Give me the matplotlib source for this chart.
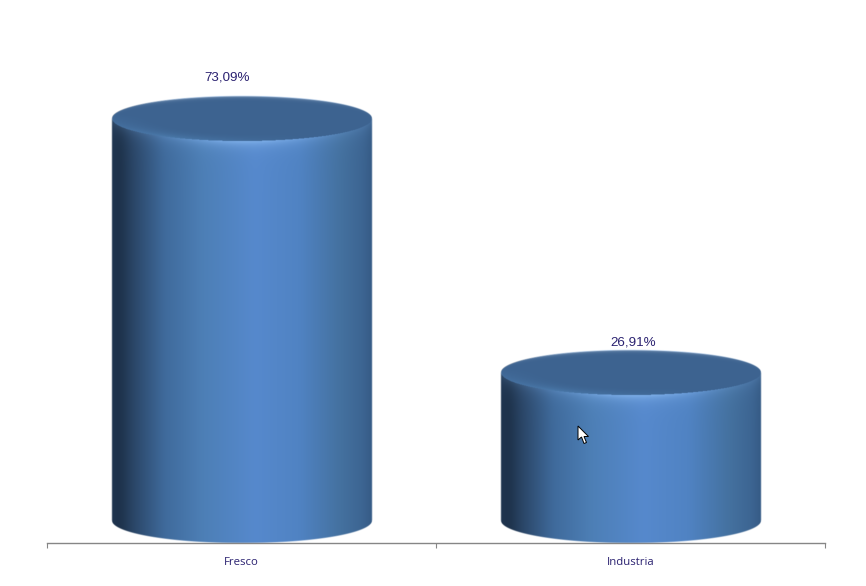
import numpy as np
import matplotlib
matplotlib.use("Agg")
import matplotlib.pyplot as plt
from matplotlib.patches import Polygon
from matplotlib.transforms import Affine2D

categories = ["Fresco", "Industria"]
values = [73.09, 26.91]
value_labels = ["73,09%", "26,91%"]
label_shift_px = [(-14, 39), (3, 27)]   # label offset from the top of each cylinder

W, H = 866, 586
BAR_WIDTH = 0.666      # category units
ELL_RATIO = 22.5 / 129.5  # semi-minor / semi-major of cylinder ellipses
TEXT_COLOR = "#2a2170"

# horizontal shading stops of the cylinder wall
stop_pos = [0.00, 0.03, 0.08, 0.20, 0.35, 0.55, 0.72, 0.88, 0.97, 1.00]
stop_col = ["#1f3550", "#1d3149", "#2a4566", "#3f6a9b", "#4d7fb6", "#5689cd",
            "#5083c3", "#44719f", "#3c6491", "#355a84"]
stop_rgb = np.array([matplotlib.colors.to_rgb(c) for c in stop_col])

# smooth look-up table of the wall shading, to avoid visible kinks
lut_t = np.linspace(0, 1, 521)
lut = np.column_stack([np.interp(lut_t, stop_pos, stop_rgb[:, i]) for i in range(3)])
kern = np.hanning(31)
kern /= kern.sum()
lut = np.column_stack([np.convolve(np.pad(lut[:, i], 15, mode="edge"), kern, mode="valid")
                       for i in range(3)])

fig = plt.figure(figsize=(W / 100, H / 100), dpi=100, facecolor="white")
ax = fig.add_axes([47 / W, 1 - 543 / H, 778 / W, 523 / H])
PX_PER_UNIT = 402 / values[0]
XLIM = (-0.5, 1.5)
YLIM = (-22 / PX_PER_UNIT, 501 / PX_PER_UNIT)
ax.set_xlim(*XLIM)
ax.set_ylim(*YLIM)
ax.patch.set_alpha(0)
for s in ("top", "left", "right"):
    ax.spines[s].set_visible(False)
ax.spines["bottom"].set_color("#868686")
ax.spines["bottom"].set_linewidth(1.0)
ax.yaxis.set_visible(False)
ax.set_xticks([-0.5, 0.5, 1.5])
ax.set_xticklabels([])
ax.tick_params(axis="x", which="major", length=3.5, width=0.8, color="#868686")
ax.set_xticks(range(len(categories)), minor=True)
ax.set_xticklabels(categories, minor=True, fontsize=8.2, family="Open Sans", color=TEXT_COLOR)
ax.tick_params(axis="x", which="minor", length=0, pad=9.8)


def cylinder(xc, value, label, shift):
    """Draw a shaded cylinder whose height comes from the data value."""
    sx = ax.bbox.width / 2.0
    a = BAR_WIDTH / 2 * sx         # semi-major, px
    b = a * ELL_RATIO              # semi-minor, px
    h = value * PX_PER_UNIT        # height, px
    ss = 2
    nx = int(2 * (a + 2) * ss)
    ny = int((h + 2 * b + 6) * ss)
    px = (np.arange(nx) + 0.5) / ss - (a + 2)
    py = (np.arange(ny) + 0.5) / ss - (b + 3)   # 0 = top-ellipse centre, downward
    X, Y = np.meshgrid(px, py)
    u = np.clip(X / a, -1, 1)
    t = (u + 1) / 2
    rgb = np.dstack([np.interp(t, lut_t, lut[:, i]) for i in range(3)])
    root = np.sqrt(np.clip(1 - u ** 2, 0, 1)) * b
    rim = Y - root                   # distance below front rim of top ellipse
    # highlight under the lid, concentrated at the front centre
    glow = np.exp(-np.clip(rim, 0, None) / 5.0) * np.exp(-((u - 0.05) / 0.45) ** 2)
    edge = np.exp(-np.clip(rim, 0, None) / 8.0) * 0.18
    light = np.array(matplotlib.colors.to_rgb("#7fb0ea"))
    mix = np.clip(glow * 0.8 + edge, 0, 1)[..., None]
    rgb = rgb * (1 - mix) + light * mix
    # lid
    d = np.sqrt((X / a) ** 2 + (Y / b) ** 2)
    lid = np.array(matplotlib.colors.to_rgb("#3d6390"))
    lid_left = np.array(matplotlib.colors.to_rgb("#4a79aa"))
    lm = (np.clip((d - 0.6) / 0.4, 0, 1) ** 2 * np.clip(0.45 - u * 0.9, 0, 1)
          * np.clip((Y + b * 0.2) / b, 0, 1))[..., None]
    lid_rgb = lid * (1 - lm) + lid_left * lm
    # thin pale fade only along the back rim of the lid
    fade = (np.exp(-np.clip(Y + root, 0, None) / 1.2) * np.exp(-(u / 0.8) ** 4) * 0.55)[..., None]
    lid_rgb = lid_rgb * (1 - fade) + np.array([0.8, 0.86, 0.93]) * fade
    rgb = np.where((d < 1)[..., None], lid_rgb, rgb)
    # alpha: wall region + lid, soft at edges
    bottom = h + root
    alpha = (np.clip(a + 0.5 - np.abs(X), 0, 1) * np.clip(bottom - Y + 0.5, 0, 1)
             * np.clip(Y + root + 0.5, 0, 1))
    img = np.dstack([rgb, alpha])
    xr = (a + 2) / sx
    top_y = value + (b + 3) / PX_PER_UNIT
    low_y = value - (ny / ss - b - 3) / PX_PER_UNIT
    ax.imshow(img, extent=[xc - xr, xc + xr, low_y, top_y], origin="upper",
              aspect="auto", interpolation="bilinear", zorder=2, clip_on=False)
    ax.text(xc, value, label, ha="center", va="baseline", fontsize=9.6,
            family="Liberation Sans", color=TEXT_COLOR, zorder=3,
            transform=ax.transData + Affine2D().translate(*shift))


for i, (v, lab, sh) in enumerate(zip(values, value_labels, label_shift_px)):
    cylinder(i, v, lab, sh)
ax.set_xlim(*XLIM)
ax.set_ylim(*YLIM)

# mouse pointer captured in the screenshot
pointer = np.array([[578, 426], [578, 440], [581.5, 437], [584, 443.5], [586.5, 442.5],
                    [584, 436.5], [588.5, 436.5]], dtype=float)
pointer[:, 1] = H - pointer[:, 1]
fig.add_artist(Polygon(pointer, closed=True, facecolor="white", edgecolor="black",
                       linewidth=0.7, transform=None, zorder=5))

fig.savefig("out.png", dpi=100, facecolor="white")
